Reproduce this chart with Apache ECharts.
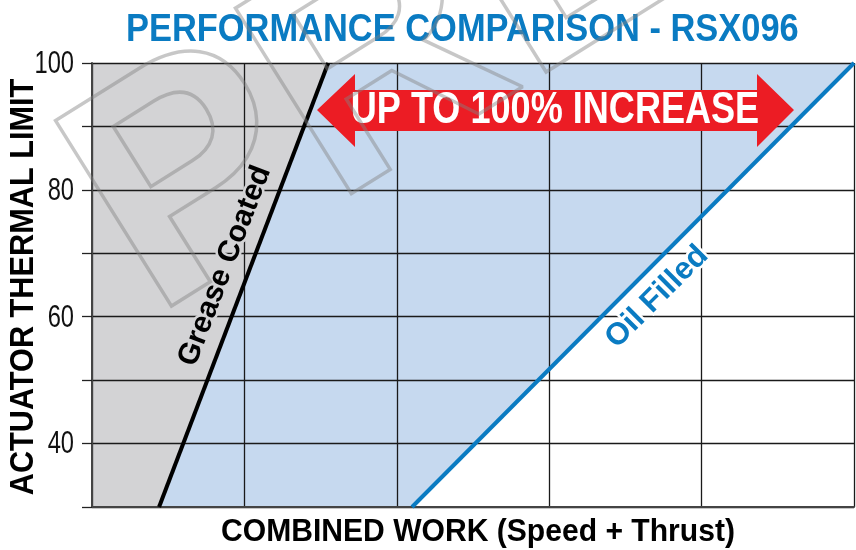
<!DOCTYPE html>
<html>
<head>
<meta charset="utf-8">
<script src="https://cdn.jsdelivr.net/npm/echarts@6/dist/echarts.min.js"></script>
<style>
  html, body { margin: 0; padding: 0; background: #fff; }
  #chart { width: 856px; height: 550px; }
</style>
</head>
<body>
<div id="chart"></div>
<script>
// axis ranges
const xRange = [0, 5];
const yRange = [30, 100];
const yTickLabels = [40, 60, 80, 100];

// the two performance limit lines (work, thermal limit)
const greaseX = [0.44, 1.55];
const greaseY = [30, 100];
const oilX = [2.1, 5];
const oilY = [30, 100];

const font = "'Liberation Sans', Arial, sans-serif";

const greaseData = greaseX.map((x, i) => [x, greaseY[i]]);
const oilData = oilX.map((x, i) => [x, oilY[i]]);

// shaded regions built from the lines and the axis bounds
const regions = [
  {
    color: '#d3d3d5',
    pts: [[xRange[0], yRange[0]], greaseData[0], greaseData[1], [xRange[0], yRange[1]]]
  },
  {
    color: '#c6d9ef',
    pts: [greaseData[0], oilData[0], oilData[1], greaseData[1]]
  }
];

const chart = echarts.init(document.getElementById('chart'));

// condensed text helper (the original uses a narrow face)
const txt = (text, x, y, size, opts) => Object.assign({
  type: 'text',
  z: 21,
  x: x,
  y: y,
  scaleX: 1,
  style: {
    text: text,
    fill: '#000',
    font: 'bold ' + size + 'px ' + font,
    align: 'center',
    verticalAlign: 'middle'
  }
}, opts || {});

chart.setOption({
  animation: false,
  grid: { left: 92, right: 2, top: 63, bottom: 43, outerBoundsMode: 'none', containLabel: false },
  xAxis: {
    type: 'value',
    min: xRange[0],
    max: xRange[1],
    interval: 1,
    z: 3,
    axisLine: { show: true, lineStyle: { color: '#444', width: 2 } },
    axisTick: { show: false },
    axisLabel: { show: false },
    splitLine: { show: true, lineStyle: { color: '#1a1a1a', width: 1.3 } }
  },
  yAxis: {
    type: 'value',
    min: yRange[0],
    max: yRange[1],
    interval: 10,
    z: 3,
    axisLine: { show: true, lineStyle: { color: '#444', width: 2 } },
    axisTick: { show: true, length: 10, lineStyle: { color: '#222', width: 1.3 } },
    axisLabel: { show: false },
    splitLine: { show: true, lineStyle: { color: '#1a1a1a', width: 1.3 } }
  },
  series: [
    {
      type: 'custom',
      z: 1,
      silent: true,
      data: regions.map((r, i) => [i]),
      renderItem: function (params, api) {
        const r = regions[params.dataIndex];
        return {
          type: 'polygon',
          shape: { points: r.pts.map(p => api.coord(p)) },
          style: { fill: r.color }
        };
      }
    },
    {
      name: 'Grease Coated',
      type: 'line',
      z: 4,
      symbol: 'none',
      data: greaseData,
      lineStyle: { color: '#000', width: 4 }
    },
    {
      name: 'Oil Filled',
      type: 'line',
      z: 4,
      symbol: 'none',
      data: oilData,
      lineStyle: { color: '#0a7bc2', width: 4 }
    }
  ]
});

// y tick labels placed through the axis scale
const tickTexts = yTickLabels.map(v => {
  const py = chart.convertToPixel({ yAxisIndex: 0 }, v);
  return {
    type: 'text',
    z: 21,
    x: 74,
    y: py + 1,
    scaleX: 0.74,
    style: {
      text: String(v),
      fill: '#111',
      font: '32px ' + font,
      align: 'right',
      verticalAlign: 'middle'
    }
  };
});

chart.setOption({
  graphic: [
    // title
    txt('PERFORMANCE COMPARISON - RSX096', 126, 31, 38, {
      scaleX: 0.906,
      style: { text: 'PERFORMANCE COMPARISON - RSX096', fill: '#0a7bc2', font: 'bold 38px ' + font, align: 'left', verticalAlign: 'middle' }
    }),
    // axis names
    txt('COMBINED WORK (Speed + Thrust)', 478, 532, 32, { scaleX: 0.94 }),
    txt('ACTUATOR THERMAL LIMIT', 24, 287, 33, { rotation: Math.PI / 2, scaleX: 0.93 }),
    ...tickTexts,
    // red double arrow
    {
      type: 'polygon',
      z: 20,
      shape: {
        points: [[317, 110], [355, 74], [355, 90], [757, 90], [757, 74], [794, 110],
                 [757, 147], [757, 131], [355, 131], [355, 147]]
      },
      style: { fill: '#ec1c24' }
    },
    txt('UP TO 100% INCREASE', 555, 111, 44, {
      scaleX: 0.82,
      style: { text: 'UP TO 100% INCREASE', fill: '#fff', font: 'bold 44px ' + font, align: 'center', verticalAlign: 'middle' }
    }),
    // line labels
    txt('Grease Coated', 225, 266, 30, {
      rotation: 69 * Math.PI / 180,
      style: { text: 'Grease Coated', fill: '#000', font: 'bold 30px ' + font, align: 'center', verticalAlign: 'middle', stroke: '#d3d3d5', lineWidth: 5 }
    }),
    txt('Oil Filled', 657, 297, 31, {
      rotation: 45 * Math.PI / 180,
      style: { text: 'Oil Filled', fill: '#0a7bc2', font: 'bold 31px ' + font, align: 'center', verticalAlign: 'middle', stroke: '#fff', lineWidth: 5 }
    }),
    // watermark
    {
      type: 'text',
      z: 30,
      silent: true,
      x: 107,
      y: 243,
      rotation: 32 * Math.PI / 180,
      style: {
        text: 'PREVIEW',
        fill: 'rgba(0,0,0,0)',
        stroke: 'rgba(130,130,130,0.45)',
        lineWidth: 3.5,
        font: 'bold 318px ' + font,
        align: 'left',
        verticalAlign: 'middle'
      }
    }
  ]
});
</script>
</body>
</html>
